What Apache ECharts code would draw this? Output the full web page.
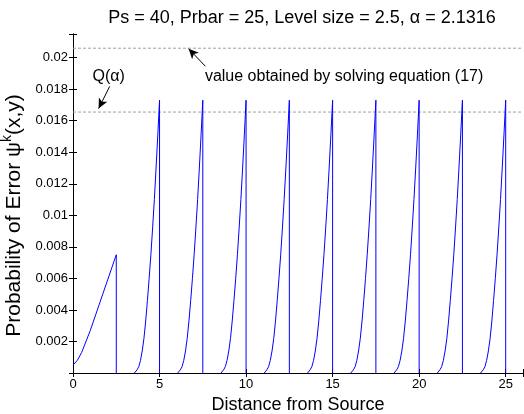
<!DOCTYPE html>
<html>
<head>
<meta charset="utf-8">
<script src="https://cdn.jsdelivr.net/npm/echarts@6/dist/echarts.min.js"></script>
<style>
html, body { margin: 0; padding: 0; background: #fff; }
#chart { width: 524px; height: 414px; }
</style>
</head>
<body>
<div id="chart"></div>
<script>
// first level: almost linear rise from the source
const firstX = [0, 0.25, 0.5, 1.0, 1.5, 2.0, 2.5];
const firstY = [0.0005, 0.0008, 0.0013, 0.0027, 0.0043, 0.0059, 0.0075];

// shape of each later ramp, offset measured from the start of its level
const rampOffsets = [1.05, 1.2, 1.3, 1.4, 1.5, 1.6, 1.7, 1.8, 1.9, 2.0, 2.1, 2.2, 2.3, 2.4, 2.5];
const rampValues = [0, 0.0002, 0.0004, 0.0008, 0.0014, 0.0022, 0.0033, 0.0046, 0.006, 0.0075, 0.0092, 0.011, 0.013, 0.0151, 0.0173];

// levels of size 2.5 after the first one
const levelStarts = [2.5, 5, 7.5, 10, 12.5, 15, 17.5, 20, 22.5];
const levelSize = 2.5;

const qAlpha = 0.01655;
const solvedValue = 0.0206;
const xRange = [0, 26];

const xTicks = [0, 5, 10, 15, 20, 25];
const yTicks = [0.002, 0.004, 0.006, 0.008, 0.01, 0.012, 0.014, 0.016, 0.018, 0.02];

const font = '"Liberation Sans", Arial, Helvetica, sans-serif';

function buildCurve() {
  const pts = [];
  firstX.forEach((x, i) => pts.push([x, firstY[i]]));
  pts.push([firstX[firstX.length - 1], 0]);
  pts.push(['-', '-']);
  levelStarts.forEach((s) => {
    rampOffsets.forEach((d, i) => pts.push([s + d, rampValues[i]]));
    pts.push([s + levelSize, 0]);
    pts.push(['-', '-']);
  });
  return pts;
}

function fmtX(v) {
  return xTicks.indexOf(v) >= 0 ? String(v) : '';
}
function fmtY(v) {
  const hit = yTicks.find((t) => Math.abs(t - v) < 1e-9);
  return hit !== undefined ? String(hit) : '';
}

const chart = echarts.init(document.getElementById('chart'));

const frameAxis = {
  axisLine: { show: true, lineStyle: { color: '#000', width: 1 } },
  axisTick: { show: true, inside: true, length: 4, lineStyle: { color: '#000' } },
  splitLine: { show: false },
};

const dashed = { color: '#a0a0a0', type: [3, 2], width: 1 };

chart.setOption({
  animation: false,
  backgroundColor: '#fff',
  textStyle: { fontFamily: font },
  title: {
    text: 'Ps = 40, Prbar = 25, Level size = 2.5, α = 2.1316',
    left: 297,
    top: 4,
    textAlign: 'center',
    textStyle: { fontFamily: font, fontSize: 18, fontWeight: 'normal', color: '#000' },
  },
  grid: {
    left: 73,
    top: 34,
    right: 1,
    bottom: 41,
    outerBoundsMode: 'none',
  },
  xAxis: [
    {
      type: 'value',
      min: xRange[0],
      max: xRange[1],
      interval: 5,
      position: 'bottom',
      name: 'Distance from Source',
      nameLocation: 'middle',
      nameGap: 20,
      nameTextStyle: { fontFamily: font, fontSize: 18, color: '#000', verticalAlign: 'top' },
      axisLabel: { color: '#000', fontSize: 13, margin: 5, formatter: fmtX, fontFamily: font },
      ...frameAxis,
    },
    {
      type: 'value',
      min: xRange[0],
      max: xRange[1],
      interval: 5,
      position: 'top',
      axisLabel: { show: false },
      ...frameAxis,
    },
  ],
  yAxis: [
    {
      type: 'value',
      min: 0,
      max: 0.0215,
      interval: 0.002,
      position: 'left',
      name: '{n|Probability of Error ψ}{s|k}{n|(x,y)}',
      nameLocation: 'middle',
      nameGap: 43,
      nameTextStyle: {
        fontFamily: font,
        color: '#000',
        padding: [0, 24, 0, 0],
        rich: {
          n: { fontFamily: font, fontSize: 21, color: '#000', verticalAlign: 'bottom', lineHeight: 26 },
          s: { fontFamily: font, fontSize: 14, color: '#000', verticalAlign: 'bottom', lineHeight: 26, padding: [0, 0, 10, 0] },
        },
      },
      axisLabel: { color: '#000', fontSize: 13, margin: 5, formatter: fmtY, fontFamily: font },
      ...frameAxis,
    },
    {
      type: 'value',
      min: 0,
      max: 0.0215,
      interval: 0.002,
      position: 'right',
      axisLabel: { show: false },
      ...frameAxis,
    },
  ],
  series: [
    {
      type: 'line',
      data: [[xRange[0], solvedValue], [xRange[1], solvedValue]],
      showSymbol: false,
      silent: true,
      lineStyle: dashed,
    },
    {
      type: 'line',
      data: [[xRange[0], qAlpha], [xRange[1], qAlpha]],
      showSymbol: false,
      silent: true,
      lineStyle: dashed,
    },
    {
      type: 'line',
      data: buildCurve(),
      showSymbol: false,
      connectNulls: false,
      silent: true,
      lineStyle: { color: '#0000ff', width: 1 },
      itemStyle: { color: '#0000ff' },
      markLine: {
        silent: true,
        symbol: ['none', 'arrow'],
        symbolSize: [7, 10],
        label: { show: false },
        lineStyle: { color: '#000', type: 'solid', width: 1 },
        data: [
          [{ coord: [2.12, 0.01818] }, { coord: [1.48, 0.01677] }],
          [{ coord: [7.65, 0.01945] }, { coord: [6.68, 0.02057] }],
        ],
      },
      markPoint: {
        silent: true,
        symbol: 'circle',
        symbolSize: 0,
        data: [
          {
            coord: [2.06, 0.01877],
            label: { show: true, position: 'inside', formatter: 'Q(α)', color: '#000', fontSize: 16, fontFamily: font },
          },
          {
            coord: [7.62, 0.01877],
            label: { show: true, position: 'right', distance: 0, formatter: 'value obtained by solving equation (17)', color: '#000', fontSize: 16, fontFamily: font },
          },
        ],
      },
    },
  ],
});
</script>
</body>
</html>
